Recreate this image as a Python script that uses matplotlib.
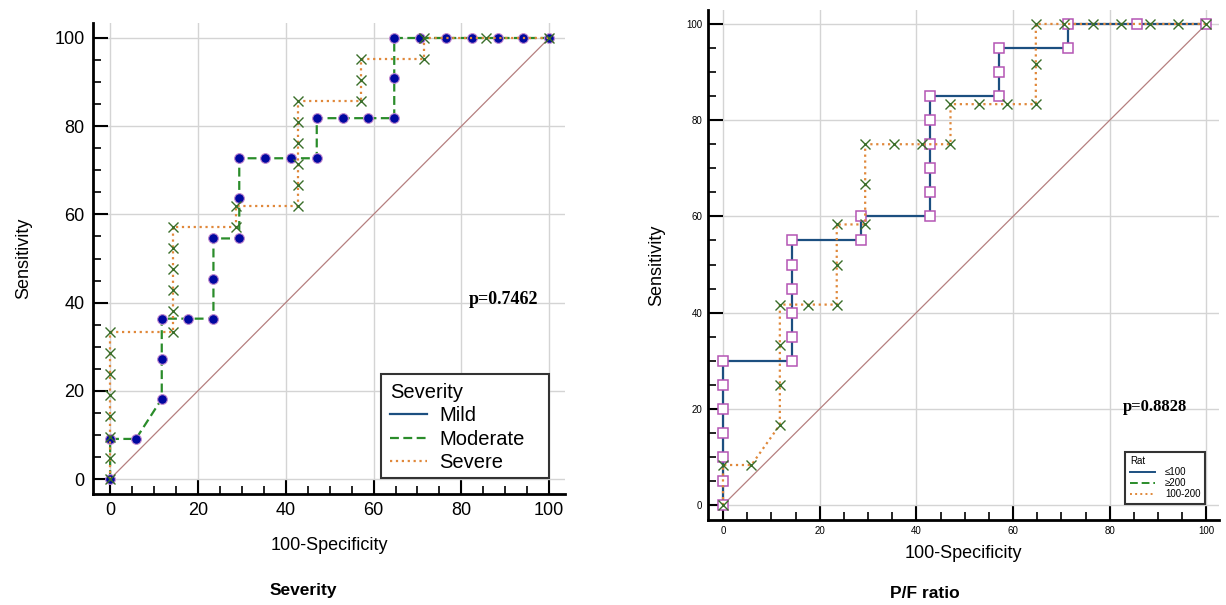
import matplotlib
matplotlib.use("Agg")
import matplotlib.pyplot as plt
from matplotlib.lines import Line2D
from matplotlib.patches import Rectangle
from matplotlib.ticker import MultipleLocator

plt.rcParams['font.family'] = ['Liberation Sans', 'DejaVu Sans']

# ---------------- data: left panel (Severity) ----------------
moderate_x = [0, 0, 5.88, 11.76, 11.76, 11.76, 17.65, 23.53, 23.53, 23.53, 29.41, 29.41, 29.41,
              35.29, 41.18, 47.06, 47.06, 52.94, 58.82, 64.71, 64.71, 64.71, 70.59, 76.47,
              82.35, 88.24, 94.12, 100]
moderate_y = [0, 9.09, 9.09, 18.18, 27.27, 36.36, 36.36, 36.36, 45.45, 54.55, 54.55, 63.64, 72.73,
              72.73, 72.73, 72.73, 81.82, 81.82, 81.82, 81.82, 90.91, 100, 100, 100,
              100, 100, 100, 100]
severe_x = [0, 0, 0, 0, 0, 0, 0, 0, 14.29, 14.29, 14.29, 14.29, 14.29, 14.29, 28.57, 28.57,
            42.86, 42.86, 42.86, 42.86, 42.86, 42.86, 57.14, 57.14, 57.14, 71.43, 71.43, 85.71, 100]
severe_y = [0, 4.76, 9.52, 14.29, 19.05, 23.81, 28.57, 33.33, 33.33, 38.10, 42.86, 47.62, 52.38,
            57.14, 57.14, 61.90, 61.90, 66.67, 71.43, 76.19, 80.95, 85.71, 85.71, 90.48, 95.24,
            95.24, 100, 100, 100]
severity_labels = ['Mild', 'Moderate', 'Severe']
p_left = 'p=0.7462'

# ---------------- data: right panel (P/F ratio) ----------------
le100_x = [0, 0, 0, 0, 0, 0, 0, 14.29, 14.29, 14.29, 14.29, 14.29, 14.29, 28.57, 28.57,
           42.86, 42.86, 42.86, 42.86, 42.86, 42.86, 57.14, 57.14, 57.14, 71.43, 71.43, 85.71, 100]
le100_y = [0, 5, 10, 15, 20, 25, 30, 30, 35, 40, 45, 50, 55, 55, 60,
           60, 65, 70, 75, 80, 85, 85, 90, 95, 95, 100, 100, 100]
mid_x = [0, 0, 5.88, 11.76, 11.76, 11.76, 11.76, 17.65, 23.53, 23.53, 23.53, 29.41, 29.41, 29.41,
         35.29, 41.18, 47.06, 47.06, 52.94, 58.82, 64.71, 64.71, 64.71, 70.59, 76.47, 82.35,
         88.24, 94.12, 100]
mid_y = [0, 8.33, 8.33, 16.67, 25, 33.33, 41.67, 41.67, 41.67, 50, 58.33, 58.33, 66.67, 75,
         75, 75, 75, 83.33, 83.33, 83.33, 83.33, 91.67, 100, 100, 100, 100,
         100, 100, 100]
ratio_labels = ['≤100', '≥200', '100-200']
p_right = 'p=0.8828'

diag = [0, 100]

C_BLUE = '#1c4f80'
C_GREEN = '#2a8c2a'
C_ORANGE = '#e0883a'
C_XMARK = '#3a6e2a'
C_DIAG = '#b57f7f'
C_GRID = '#d4d4d4'

fig = plt.figure(figsize=(12.26, 6.05), dpi=100)

axL = fig.add_axes([93/1226, 1-494/605, 472/1226, 471/605])
axR = fig.add_axes([708/1226, 1-520/605, 511/1226, 510/605])


def style_axes(ax, xlim, ylim, lab_size, maj_len, min_len, pad, spine_w):
    ax.set_xlim(*xlim)
    ax.set_ylim(*ylim)
    ax.xaxis.set_major_locator(MultipleLocator(20))
    ax.yaxis.set_major_locator(MultipleLocator(20))
    ax.xaxis.set_minor_locator(MultipleLocator(5))
    ax.yaxis.set_minor_locator(MultipleLocator(5))
    ax.grid(True, which='major', color=C_GRID, lw=1.0)
    ax.set_axisbelow(True)
    for s in ['top', 'right']:
        ax.spines[s].set_visible(False)
    for s in ['left', 'bottom']:
        ax.spines[s].set_linewidth(spine_w)
    ax.tick_params(which='major', direction='in', length=maj_len, width=1.5,
                   labelsize=lab_size, pad=pad, colors='black')
    ax.tick_params(which='minor', direction='in', length=min_len, width=1.2)


# ---------- left axes ----------
style_axes(axL, (-3.9, 103.6), (-3.4, 103.4), 13, 11, 5.5, 6, 2.0)

axL.plot(diag, diag, color=C_DIAG, lw=0.9, zorder=2)
axL.plot(moderate_x, moderate_y, ls=(0, (4, 2)), color=C_GREEN, lw=1.6, zorder=3,
         marker='o', ms=7, mfc='#0008a0', mec='#c48ad0', mew=0.8)
axL.plot(severe_x, severe_y, ls=':', color=C_ORANGE, lw=1.6, zorder=4,
         marker='x', ms=6.5, mec=C_XMARK, mew=1.0)

# legend frame (wider than the legend content, as in the original)
axL.add_patch(Rectangle((0.610, 0.034), 0.356, 0.221, transform=axL.transAxes,
                        facecolor='white', edgecolor='#333333', lw=1.5, zorder=4.9))
handlesL = [Line2D([], [], color=C_BLUE, lw=1.6, ls='-'),
            Line2D([], [], color=C_GREEN, lw=1.6, ls=(0, (4, 2))),
            Line2D([], [], color=C_ORANGE, lw=1.6, ls=':')]
legL = axL.legend(handlesL, severity_labels, title='Severity', loc='upper left',
                  bbox_to_anchor=(0.610, 0.255), borderaxespad=0, fontsize=14.5,
                  title_fontsize=14.5, frameon=False,
                  handlelength=1.85, handletextpad=0.6, labelspacing=0.22,
                  borderpad=0.45, alignment='left')
legL.set_zorder(5)

axL.text(89.5, 40.6, p_left, family='Liberation Serif', fontweight='bold', fontsize=13,
         ha='center', va='center')
axL.set_xlabel('100-Specificity', fontsize=13, labelpad=13)
axL.set_ylabel('Sensitivity', fontsize=13, labelpad=16)

# ---------- right axes ----------
style_axes(axR, (-3.1, 102.6), (-3.1, 102.9), 7, 10.5, 5.5, 4, 2.0)

axR.plot(diag, diag, color=C_DIAG, lw=0.9, zorder=2)
axR.plot(le100_x, le100_y, ls='-', color=C_BLUE, lw=1.6, zorder=3,
         marker='s', ms=7, mfc='white', mec='#b455b4', mew=1.1)
axR.plot(mid_x, mid_y, ls=':', color=C_ORANGE, lw=1.6, zorder=4,
         marker='x', ms=6.5, mec=C_XMARK, mew=1.0)

handlesR = [Line2D([], [], color=C_BLUE, lw=1.4, ls='-'),
            Line2D([], [], color=C_GREEN, lw=1.4, ls=(0, (4, 2))),
            Line2D([], [], color=C_ORANGE, lw=1.4, ls=':')]
legR = axR.legend(handlesR, ratio_labels, title='Rat', loc='lower right',
                  bbox_to_anchor=(0.973, 0.031), borderaxespad=0, fontsize=7,
                  title_fontsize=7, fancybox=False, framealpha=1, edgecolor='#333333',
                  handlelength=2.6, handletextpad=1.0, labelspacing=0.1,
                  borderpad=0.5, alignment='left')
legR.get_frame().set_linewidth(1.5)

axR.text(89.4, 20.4, p_right, family='Liberation Serif', fontweight='bold', fontsize=12,
         ha='center', va='center')
axR.set_xlabel('100-Specificity', fontsize=13, labelpad=7)
axR.set_ylabel('Sensitivity', fontsize=13, labelpad=15)

# ---------- captions ----------
fig.text(303/1226, 1-590/605, 'Severity', fontsize=12.5, fontweight='bold',
         ha='center', va='center')
fig.text(925/1226, 1-593/605, 'P/F ratio', fontsize=12.5, fontweight='bold',
         ha='center', va='center')

fig.savefig('out.png', dpi=100)
